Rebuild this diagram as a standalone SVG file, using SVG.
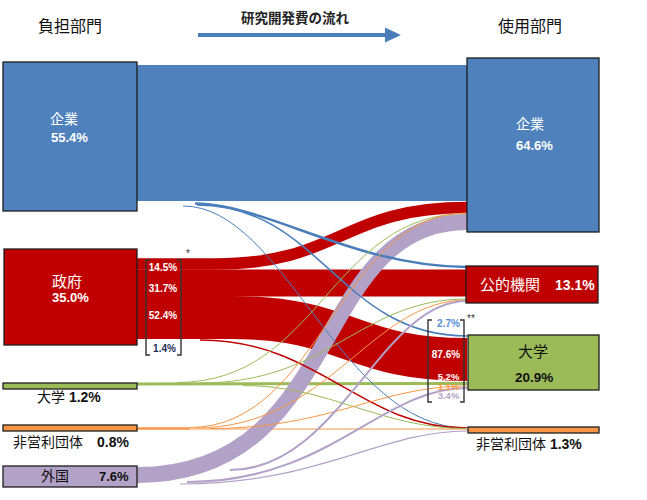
<svg xmlns="http://www.w3.org/2000/svg" width="647" height="500" viewBox="0 0 647 500">
<defs>
<style>
text{font-family:"Liberation Sans","Noto Sans CJK JP",sans-serif;}
.hd{font-size:16px;fill:#111;}
.ttl{font-size:13.5px;font-weight:bold;fill:#222;}
.wl{font-size:14px;fill:#fff;}
.wn{font-size:13px;font-weight:bold;fill:#fff;}
.bl{font-size:14px;fill:#111;}
.bn{font-weight:bold;}
.pc{font-size:10px;font-weight:bold;text-anchor:middle;}
.box{stroke:#1e1e1e;stroke-width:1.3;}
.lk{fill:none;}
.br{fill:none;stroke:#333;stroke-width:1.4;}
</style>
<marker id="ah" markerWidth="4.2" markerHeight="4" refX="0" refY="2" orient="auto" markerUnits="strokeWidth">
<path d="M0,0 L4.2,2 L0,4 Z" fill="#4a7ebb"/>
</marker>
</defs>
<rect width="647" height="500" fill="#fff"/>

<g id="header">
<text class="hd" x="38" y="32">負担部門</text>
<text class="ttl" x="241" y="23">研究開発費の流れ</text>
<line x1="198" y1="35" x2="385" y2="35" stroke="#4a7ebb" stroke-width="3.8" marker-end="url(#ah)"/>
<text class="hd" x="498" y="32">使用部門</text>
</g>

<g id="connectors">
<rect x="137" y="65" width="330" height="136" fill="#4f81bd"/>
<path class="lk" d="M137,264 L215,264 C341,264 341,207.5 467,207.5" stroke="#c00000" stroke-width="11.5"/>
<path class="lk" d="M137,283 L467,283" stroke="#c00000" stroke-width="27"/>
<path class="lk" d="M137,317.5 L230,317.5 C350,317.5 350,359.5 467,359.5" stroke="#c00000" stroke-width="43"/>
<path class="lk" d="M137,384 L467,383.5" stroke="#9bbb59" stroke-width="3"/>
<path class="lk" d="M137,428.5 L190,428.5" stroke="#f79646" stroke-width="2.5"/>
<path class="lk" d="M190,429 L467,429" stroke="#f79646" stroke-width="1"/>
<path class="lk" d="M137,475 C345,475 310,222 467,222" stroke="#b3a2c7" stroke-width="16"/>
<path class="lk" d="M195,203.5 C265,203.5 355,267 467,267" stroke="#4a7ebb" stroke-width="2.5"/>
<path class="lk" d="M197,205 C320,205 340,336 467,336" stroke="#4a7ebb" stroke-width="1.6"/>
<path class="lk" d="M183,206 C285,206 340,428 467,428" stroke="#4a7ebb" stroke-width="1"/>
<path class="lk" d="M200,340 C320,340 360,428 467,428" stroke="#c00000" stroke-width="1.5"/>
<path class="lk" d="M177,382.5 C320,382.5 330,213.5 467,213.5" stroke="#9bbb59" stroke-width="1"/>
<path class="lk" d="M200,383 C330,383 360,299 467,299" stroke="#9bbb59" stroke-width="1"/>
<path class="lk" d="M243,385.5 C330,385.5 380,428.5 467,428.5" stroke="#9bbb59" stroke-width="1"/>
<path class="lk" d="M190,427.5 C320,427.5 340,213 467,213" stroke="#f79646" stroke-width="1"/>
<path class="lk" d="M195,428 C330,428 370,300 467,300" stroke="#f79646" stroke-width="1"/>
<path class="lk" d="M210,428.5 C330,428.5 380,386 467,386" stroke="#f79646" stroke-width="1"/>
<path class="lk" d="M230,470 C340,470 380,301 467,301" stroke="#b3a2c7" stroke-width="2"/>
<path class="lk" d="M187,482 C330,482 380,388 467,388" stroke="#b3a2c7" stroke-width="2"/>
<path class="lk" d="M180,484 C320,484 380,431 467,431" stroke="#b3a2c7" stroke-width="1.2"/>
</g>

<g id="src-kigyo">
<rect class="box" x="3" y="62" width="134" height="149" fill="#4f81bd"/>
<text class="wl" x="50" y="124">企業</text>
<text class="wn" x="51" y="142">55.4%</text>
</g>
<g id="src-seifu">
<rect class="box" x="4" y="249" width="133" height="96" fill="#c00000"/>
<text class="wl" x="52" y="287" style="font-size:15px">政府</text>
<text class="wn" x="52" y="302">35.0%</text>
</g>
<g id="src-seifu-bracket">
<path class="br" d="M150,260 L146,260 L146,355 L150,355 M177,260 L181,260 L181,355 L177,355"/>
<text class="pc" x="163" y="271" fill="#fff">14.5%</text>
<text class="pc" x="163" y="292" fill="#fff">31.7%</text>
<text class="pc" x="163" y="319" fill="#fff">52.4%</text>
<text class="pc" x="164.5" y="352" fill="#1f2d5a">1.4%</text>
<text x="186" y="257" style="font-size:10px;fill:#333">*</text>
</g>
<g id="src-daigaku">
<rect class="box" x="3" y="383" width="134" height="6" fill="#9bbb59"/>
<text class="bl" x="37" y="402">大学 <tspan class="bn">1.2%</tspan></text>
</g>
<g id="src-hieiri">
<rect class="box" x="3" y="425" width="134" height="6" fill="#f79646"/>
<text class="bl" x="13" y="447">非営利団体　<tspan class="bn">0.8%</tspan></text>
</g>
<g id="src-gaikoku">
<rect class="box" x="3" y="466" width="134" height="21" fill="#b3a2c7"/>
<text class="bl" x="41" y="481">外国</text>
<text class="bl bn" x="99" y="481" style="font-size:13px">7.6%</text>
</g>

<g id="dst-kigyo">
<rect class="box" x="467" y="58" width="132" height="174" fill="#4f81bd"/>
<text class="wl" x="516" y="129">企業</text>
<text class="wn" x="516" y="150">64.6%</text>
</g>
<g id="dst-koteki">
<rect class="box" x="466" y="266" width="132" height="37" fill="#c00000"/>
<text class="wl" x="480" y="290" style="font-size:15px">公的機関</text>
<text class="wn" x="555" y="290" style="font-size:14px">13.1%</text>
</g>
<g id="dst-daigaku">
<rect class="box" x="468" y="335" width="131" height="55" fill="#9bbb59"/>
<text class="bl" x="518" y="357" style="font-size:15px">大学</text>
<text class="bl bn" x="515" y="382" style="font-size:13.5px">20.9%</text>
</g>
<g id="dst-daigaku-bracket">
<path class="br" d="M432,320 L428,320 L428,402 L432,402 M460,320 L464,320 L464,402 L460,402"/>
<text class="pc" x="448.5" y="327" fill="#558ed5">2.7%</text>
<text class="pc" x="446" y="358" fill="#fff">87.6%</text>
<text class="pc" x="448.5" y="380" fill="#fff" style="font-size:9.5px">5.2%</text>
<text class="pc" x="448.5" y="389.5" fill="#f79646" style="font-size:9.5px">1.1%</text>
<text class="pc" x="448.5" y="399" fill="#b3a2c7" style="font-size:9.5px">3.4%</text>
<text x="467" y="322" style="font-size:10px;fill:#333">**</text>
</g>
<g id="dst-hieiri">
<rect class="box" x="468" y="427" width="131" height="6" fill="#f79646"/>
<text class="bl" x="476" y="449">非営利団体 <tspan class="bn">1.3%</tspan></text>
</g>
</svg>
